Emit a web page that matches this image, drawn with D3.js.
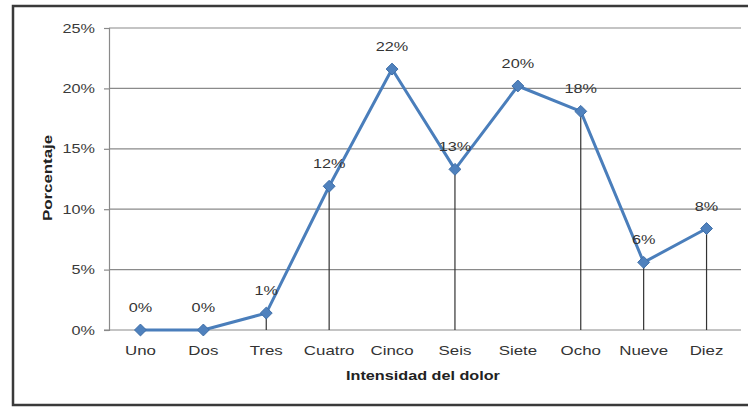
<!DOCTYPE html>
<html>
<head>
<meta charset="utf-8">
<script src="https://cdn.jsdelivr.net/npm/d3@7/dist/d3.min.js"></script>
<style>
  html, body { margin: 0; padding: 0; background: #fff; }
  svg { display: block; font-family: "Liberation Sans", Arial, sans-serif; }
</style>
</head>
<body>
<svg id="chart" width="748" height="408"></svg>
<script>
// Intensidad del dolor: porcentaje de pacientes por nivel
const categories = ["Uno", "Dos", "Tres", "Cuatro", "Cinco", "Seis", "Siete", "Ocho", "Nueve", "Diez"];
const percentages = [0, 0, 1.4, 11.9, 21.6, 13.3, 20.2, 18.1, 5.6, 8.4];
const yTicks = [0, 5, 10, 15, 20, 25];
const dropLineCategories = ["Tres", "Cuatro", "Seis", "Ocho", "Nueve", "Diez"];
const xTitle = "Intensidad del dolor";
const yTitle = "Porcentaje";

const svg = d3.select("#chart");
const plot = { left: 109, right: 738, top: 28, bottom: 330 };
const WIDE = 1.25; // horizontal stretch of the wide chart lettering
const FONT = "\"Liberation Sans\", Arial, sans-serif";

const x = d3.scaleBand().domain(categories).range([plot.left, plot.right]);
const y = d3.scaleLinear().domain([0, 25]).range([plot.bottom, plot.top]);
const cx = c => x(c) + x.bandwidth() / 2;

// outer chart frame
svg.append("rect")
  .attr("x", 13).attr("y", 6).attr("width", 745).attr("height", 399)
  .attr("fill", "#fff").attr("stroke", "#3a3a3a").attr("stroke-width", 2.5);

// horizontal gridlines
svg.append("g").selectAll("line").data(yTicks.filter(t => t > 0)).join("line")
  .attr("x1", plot.left).attr("x2", plot.right + 3)
  .attr("y1", d => y(d)).attr("y2", d => y(d))
  .attr("stroke", "#8a8a8a").attr("stroke-width", 1.2);

// y axis
const yAxis = svg.append("g").attr("transform", `translate(${plot.left},0)`)
  .call(d3.axisLeft(y).tickValues(yTicks).tickFormat(d => d + "%").tickSize(5));
yAxis.select(".domain").attr("stroke", "#8a8a8a").attr("stroke-width", 1.2);
yAxis.selectAll(".tick line").attr("stroke", "#8a8a8a").attr("stroke-width", 1.2);
yAxis.selectAll(".tick text")
  .attr("x", 0).attr("transform", `translate(-14,0) scale(${WIDE},1)`)
  .attr("font-size", 13).attr("fill", "#3a3a3a").attr("font-family", FONT);

// x axis
const xAxis = svg.append("g").attr("transform", `translate(0,${plot.bottom})`)
  .call(d3.axisBottom(x).tickSize(0));
xAxis.select(".domain").attr("stroke", "#8a8a8a").attr("stroke-width", 1.2)
  .attr("d", `M${plot.left - 5},0H${plot.right + 3}`);
xAxis.selectAll(".tick text")
  .attr("y", 0).attr("dy", 0).attr("transform", `translate(0,25) scale(${WIDE},1)`)
  .attr("font-size", 13.5).attr("fill", "#333").attr("font-family", FONT);

// drop lines from points to the axis
svg.append("g").selectAll("line").data(dropLineCategories).join("line")
  .attr("x1", d => cx(d)).attr("x2", d => cx(d))
  .attr("y1", d => y(percentages[categories.indexOf(d)]))
  .attr("y2", plot.bottom)
  .attr("stroke", "#333").attr("stroke-width", 1.2);

// series line
const series = categories.map((c, i) => ({ c, v: percentages[i] }));
svg.append("path").datum(series)
  .attr("fill", "none").attr("stroke", "#4a7ebb").attr("stroke-width", 3)
  .attr("stroke-linejoin", "round")
  .attr("d", d3.line().x(d => cx(d.c)).y(d => y(d.v)));

// diamond markers
svg.append("g").selectAll("path").data(series).join("path")
  .attr("transform", d => `translate(${cx(d.c)},${y(d.v)})`)
  .attr("d", d3.symbol(d3.symbolDiamond2, 90))
  .attr("fill", "#4f81bd").attr("stroke", "#3f6fa8").attr("stroke-width", 1);

// value labels
svg.append("g").selectAll("text").data(series).join("text")
  .attr("transform", d => `translate(${cx(d.c)},${y(d.v) - 18}) scale(${WIDE},1)`)
  .attr("text-anchor", "middle").attr("font-size", 13).attr("fill", "#333")
  .text(d => Math.round(d.v) + "%");

// axis titles
svg.append("text").attr("transform", `translate(423,380) scale(1.2,1)`)
  .attr("text-anchor", "middle").attr("font-size", 13.5).attr("font-weight", "bold").attr("fill", "#222")
  .text(xTitle);
svg.append("text").attr("transform", `translate(52,178) rotate(-90) scale(${WIDE},1)`)
  .attr("text-anchor", "middle").attr("font-size", 13.5).attr("font-weight", "bold").attr("fill", "#222")
  .text(yTitle);
</script>
</body>
</html>
